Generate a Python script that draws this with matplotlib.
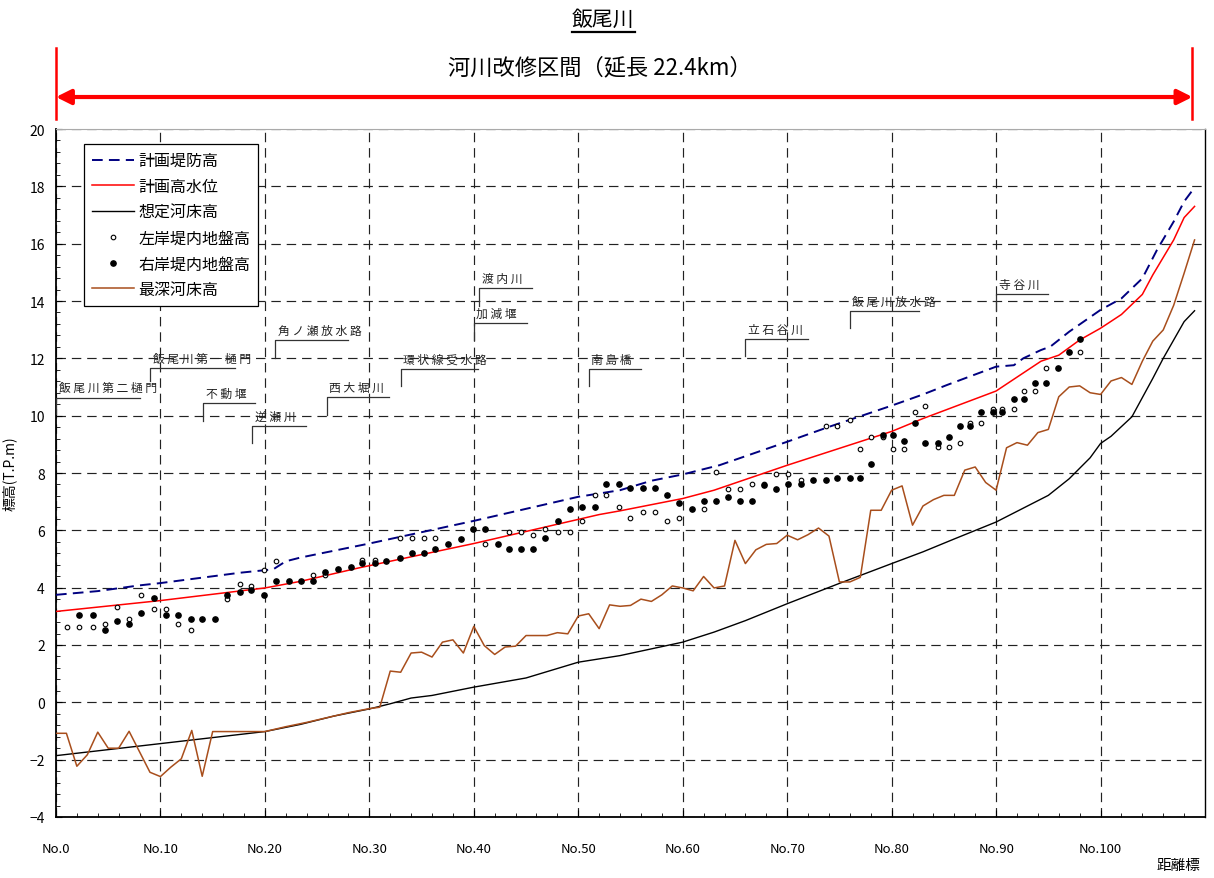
import matplotlib
matplotlib.use("Agg")
import matplotlib.pyplot as plt
import matplotlib.transforms as mtransforms
from matplotlib.ticker import MultipleLocator, FixedLocator
import numpy as np

plt.rcParams['font.family'] = ['Noto Sans CJK JP', 'DejaVu Sans']

# 計画堤防高
dike_sta = [0, 4, 8, 10, 17.6, 20.8, 22, 23.4, 30, 40, 50, 54, 57, 60, 62.5, 63.5, 70, 74,
            80, 83, 85.3, 90, 91.7, 92.6, 94.3, 95.2, 97, 100, 102, 104, 105.4, 107, 108, 109]
dike_el = [3.75, 3.88, 4.08, 4.16, 4.52, 4.64, 4.92, 5.05, 5.54, 6.33, 7.17, 7.40, 7.73, 7.95, 8.18, 8.27, 9.09, 9.61,
           10.35, 10.74, 11.07, 11.71, 11.76, 12.00, 12.29, 12.41, 12.93, 13.69, 14.09, 14.79, 15.78, 16.77, 17.47, 17.96]

# 計画高水位
hwl_sta = [0, 10, 20, 23.4, 29, 40, 52, 54, 60, 63, 70, 80, 83, 90, 94.3, 96, 98, 100, 102, 104, 105, 107, 108, 109]
hwl_el = [3.17, 3.55, 3.99, 4.22, 4.69, 5.54, 6.55, 6.68, 7.11, 7.40, 8.27, 9.45, 9.90, 10.86, 11.90, 12.11, 12.64,
          13.05, 13.53, 14.23, 14.91, 16.13, 16.91, 17.30]

# 想定河床高
bed_sta = [0, 10, 20, 23.4, 26.6, 30, 32, 34, 36, 40, 45, 50, 54, 60, 63, 66, 70, 75, 80, 83, 86, 90, 95, 97,
           99, 100, 101, 103, 105, 106, 108, 109]
bed_el = [-1.86, -1.44, -1.02, -0.77, -0.48, -0.23, -0.05, 0.15, 0.24, 0.53, 0.85, 1.40, 1.63, 2.10, 2.45, 2.85,
          3.44, 4.15, 4.84, 5.25, 5.70, 6.29, 7.22, 7.80, 8.53, 9.03, 9.28, 9.96, 11.30, 12.00, 13.28, 13.66]

# 最深河床高
deep_sta = [0, 1, 2, 3, 4, 5, 6, 7, 9, 10, 11, 12, 13, 14, 15, 20, 22, 24, 26, 28, 30, 31, 32, 33, 34, 35, 36,
            37, 38, 39, 40, 41, 42, 43, 44, 45, 47, 48, 49, 50, 51, 52, 53, 54, 55, 56, 57, 58, 59, 60, 61, 62,
            63, 64, 65, 66, 67, 68, 69, 70, 71, 72, 73, 74, 75, 76, 77, 78, 79, 80, 81, 82, 83, 84, 85, 86, 87,
            88, 89, 90, 91, 92, 93, 94, 95, 96, 97, 98, 99, 100, 101, 102, 103, 104, 105, 106, 107, 108, 109]
deep_el = [-1.08, -1.08, -2.23, -1.83, -1.04, -1.60, -1.60, -1.01, -2.44, -2.59, -2.26, -1.97, -0.98, -2.58,
           -1.02, -1.02, -0.85, -0.70, -0.53, -0.36, -0.22, -0.17, 1.09, 1.05, 1.72, 1.75, 1.58, 2.10, 2.18,
           1.72, 2.65, 1.98, 1.67, 1.93, 1.96, 2.33, 2.33, 2.43, 2.39, 3.01, 3.09, 2.57, 3.40, 3.35, 3.38, 3.60,
           3.52, 3.75, 4.06, 3.99, 3.89, 4.39, 3.99, 4.06, 5.65, 4.84, 5.32, 5.51, 5.54, 5.83, 5.67, 5.85, 6.08,
           5.80, 4.20, 4.20, 4.36, 6.70, 6.70, 7.40, 7.55, 6.18, 6.85, 7.07, 7.22, 7.22, 8.10, 8.21, 7.67, 7.40,
           8.88, 9.06, 8.97, 9.41, 9.52, 10.66, 11.00, 11.04, 10.80, 10.74, 11.21, 11.33, 11.09, 11.90, 12.60,
           12.99, 13.85, 14.97, 16.13]

# 堤内地盤高 (左岸・右岸)
nan = np.nan
ground_sta = [1.1, 2.2, 3.5, 4.7, 5.8, 7.0, 8.1, 9.4, 10.5, 11.7, 12.9, 14.0, 15.2, 16.4, 17.6, 18.7, 19.9,
              21.1, 22.3, 23.5, 24.6, 25.8, 27.0, 28.2, 29.3, 30.5, 31.6, 32.9, 34.1, 35.2, 36.3, 37.5, 38.8,
              39.9, 41.1, 42.3, 43.4, 44.5, 45.7, 46.8, 48.1, 49.2, 50.4, 51.6, 52.7, 53.9, 55.0, 56.2, 57.3,
              58.5, 59.6, 60.9, 62.0, 63.2, 64.3, 65.5, 66.6, 67.8, 68.9, 70.1, 71.3, 72.5, 73.7, 74.8, 76.0,
              77.0, 78.0, 79.2, 80.1, 81.2, 82.2, 83.2, 84.4, 85.5, 86.5, 87.5, 88.6, 89.7, 90.6, 91.7, 92.7,
              93.7, 94.8, 95.9, 97.0, 98.0]
left_bank = [2.63, 2.63, 2.63, 2.74, 3.32, 2.92, 3.75, 3.24, 3.24, 2.74, 2.54, nan, nan, 3.61, 4.14, 4.06, 4.63,
             4.93, nan, nan, 4.43, 4.43, nan, nan, 4.95, 4.95, nan, 5.73, 5.73, 5.73, 5.73, nan, nan,
             nan, 5.51, nan, 5.94, 5.94, 5.85, 6.03, 5.94, 5.94, 6.32, 7.22, 7.22, 6.82, 6.43, 6.64, 6.64,
             6.32, 6.43, nan, 6.74, 8.04, 7.45, 7.45, 7.61, 7.61, 7.95, 7.95, 7.74, nan, 9.63, 9.63, 9.84,
             8.83, 9.25, 9.25, 8.83, 8.83, 10.14, 10.35, 8.91, 8.91, 9.05, 9.76, 9.76, 10.22, 10.22, 10.22, 10.86,
             10.86, 11.65, nan, nan, 12.23]
right_bank = [nan, 3.03, 3.03, 2.54, 2.84, 2.74, 3.13, 3.64, 3.03, 3.03, 2.92, 2.92, 2.92, 3.75, 3.85, 3.93, 3.75,
              4.22, 4.22, 4.22, 4.22, 4.55, 4.64, 4.72, 4.86, 4.86, 4.93, 5.04, 5.22, 5.22, 5.35, 5.51, 5.71,
              6.03, 6.03, 5.51, 5.36, 5.36, 5.36, 5.73, 6.32, 6.74, 6.82, 6.82, 7.61, 7.61, 7.46, 7.46, 7.46,
              7.25, 6.94, 6.74, 7.03, 7.03, 7.15, 7.03, 7.03, 7.57, 7.45, 7.61, 7.61, 7.74, 7.74, 7.83, 7.83,
              7.83, 8.33, 9.34, 9.34, 9.12, 9.76, 9.05, 9.05, 9.26, 9.63, 9.63, 10.14, 10.14, 10.14, 10.57, 10.57,
              11.15, 11.15, 11.65, 12.23, 12.66]

# 構造物・支川 (名称, 距離標, 引出線下端, 横線高さ, 横線長さ)
structures = [
    ('飯尾川第二樋門', 0.0, 10.05, 10.63, 8.0),
    ('飯尾川第一樋門', 9.0, 11.20, 11.65, 8.1),
    ('不動堰', 14.1, 9.80, 10.43, 5.0),
    ('逆瀬川', 18.8, 9.04, 9.63, 5.1),
    ('角ノ瀬放水路', 21.0, 12.00, 12.63, 7.0),
    ('西大堀川', 25.9, 10.04, 10.64, 6.0),
    ('環状線受水路', 33.0, 11.02, 11.62, 7.4),
    ('加減堰', 40.0, 12.63, 13.22, 5.1),
    ('渡内川', 40.5, 13.81, 14.44, 5.1),
    ('南島橋', 51.0, 11.02, 11.62, 5.0),
    ('立石谷川', 66.0, 12.07, 12.66, 6.0),
    ('飯尾川放水路', 76.0, 13.05, 13.64, 6.6),
    ('寺谷川', 90.0, 13.64, 14.24, 5.0),
]

section_start, section_end = 0.0, 108.8
xticks = list(range(0, 101, 10))
xlabels = ['No.%d' % v for v in xticks]

fig = plt.figure(figsize=(12.14, 8.79), dpi=100)
ax = fig.add_axes([0.0461, 0.0694, 0.9465, 0.7827])

ax.plot(dike_sta, dike_el, color='#000080', lw=1.4, dashes=(5.5, 3.2), label='計画堤防高', zorder=3)
ax.plot(hwl_sta, hwl_el, color='#ff0000', lw=1.1, label='計画高水位', zorder=3)
ax.plot(bed_sta, bed_el, color='black', lw=1.0, label='想定河床高', zorder=3)
ax.plot(ground_sta, left_bank, ls='none', marker='o', ms=3.3, mfc='white', mec='black', mew=0.8,
        label='左岸堤内地盤高', zorder=5)
ax.plot(ground_sta, right_bank, ls='none', marker='o', ms=3.8, mfc='black', mec='black',
        label='右岸堤内地盤高', zorder=5)
ax.plot(deep_sta, deep_el, color='#a84e1c', lw=1.1, label='最深河床高', zorder=3)

# 構造物の引出線と名称
for name, sta, y0, y1, length in structures:
    ax.plot([sta, sta, sta + length], [y0, y1, y1], color='#333333', lw=0.9, zorder=4)
    ax.text(sta + 0.25, y1 + 0.12, ' '.join(name), fontsize=8.5, color='#222222',
            ha='left', va='bottom', zorder=4)

ax.set_xlim(0, 110)
ax.set_ylim(-4, 20)
ax.xaxis.set_major_locator(FixedLocator(xticks))
ax.set_xticklabels(xlabels, fontsize=9.5)
ax.xaxis.set_minor_locator(MultipleLocator(2))
ax.yaxis.set_major_locator(MultipleLocator(2))
ax.yaxis.set_minor_locator(MultipleLocator(0.4))
ax.tick_params(axis='both', which='both', direction='in')
ax.tick_params(axis='x', which='major', length=5, pad=18)
ax.tick_params(axis='x', which='minor', length=3)
ax.tick_params(axis='y', which='major', length=4, pad=8, labelsize=10)
ax.tick_params(axis='y', which='minor', length=3)

ax.grid(True, which='major', color='#222222', lw=0.85, ls=(0, (8, 5)))
ax.set_axisbelow(True)
for side in ('left', 'bottom'):
    ax.spines[side].set_linewidth(1.3)
ax.spines['top'].set_color('#aaaaaa')
ax.spines['right'].set_linewidth(1.0)

ax.set_ylabel('標高(T.P.m)', fontsize=10)
ax.yaxis.set_label_coords(-0.034, 0.5)
fig.text(1200 / 1214, 1 - 866 / 879, '距離標', fontsize=10.5, ha='right', va='center')

leg = ax.legend(loc='upper left', bbox_to_anchor=(0.0244, 0.978), borderaxespad=0, fontsize=11.5,
                handlelength=2.6, handletextpad=0.3, labelspacing=0.55, borderpad=0.5,
                fancybox=False, edgecolor='black', framealpha=1, numpoints=1)
leg.get_frame().set_linewidth(0.9)
leg.set_zorder(6)

# 河川改修区間の矢印
blend = mtransforms.blended_transform_factory(ax.transData, fig.transFigure)
for x in (section_start, section_end):
    ax.plot([x, x], [0.8635, 0.9443], color='red', lw=1.8, transform=blend, clip_on=False)
ax.annotate('', xy=(section_end, 0.8885), xytext=(section_start, 0.8885), xycoords=blend, textcoords=blend,
            arrowprops=dict(arrowstyle='<|-|>', color='red', lw=3, mutation_scale=22,
                            shrinkA=0, shrinkB=0))
fig.text(0.494, 0.9226, '河川改修区間（延長 22.4km）', fontsize=16, ha='center', va='center')

title = fig.text(0.497, 0.977, '飯尾川', fontsize=15, ha='center', va='center')
fig.canvas.draw()
bb = title.get_window_extent().transformed(fig.transFigure.inverted())
fig.add_artist(plt.Line2D([bb.x0, bb.x1], [bb.y0 - 0.002, bb.y0 - 0.002], color='black', lw=1.6,
                          transform=fig.transFigure))

fig.savefig('out.png', dpi=100)
